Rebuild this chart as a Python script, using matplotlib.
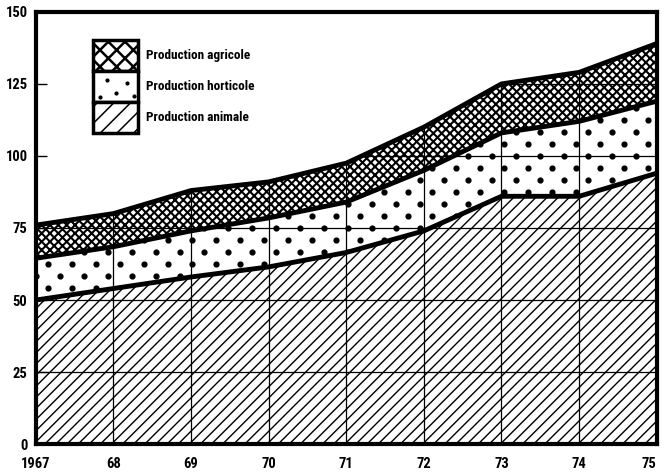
import numpy as np
import matplotlib
matplotlib.use("Agg")
import matplotlib.pyplot as plt
from matplotlib import font_manager
from matplotlib.patches import Rectangle

# =========================
# data (cumulative levels)
# =========================

years = [1967, 1968, 1969, 1970, 1971, 1972, 1973, 1974, 1975]
year_labels = ["1967", "68", "69", "70", "71", "72", "73", "74", "75"]

animale = [50, 54, 58, 61.5, 66.5, 74, 86, 86, 94]
horticole = [14.5, 14.5, 16, 17, 17.5, 21, 22, 26, 25]
agricole = [11.5, 11.5, 14, 12.5, 13.5, 15, 17, 17, 20]

y_ticks = [0, 25, 50, 75, 100, 125, 150]
legend_labels = ["Production agricole", "Production horticole", "Production animale"]

# =========================
# narrow bold font if one exists
# =========================

names = set(font_manager.get_font_names())
font = dict(family="DejaVu Sans", stretch="condensed", weight="bold")
for cand in ["Liberation Sans Narrow", "Roboto Condensed", "Open Sans Condensed"]:
    if cand in names:
        font = dict(family=cand, weight="bold")
        break

# =========================
# figure
# =========================

fig = plt.figure(figsize=(6.64, 4.74), dpi=100)
ax = fig.add_axes([0.054, 0.063, 0.935, 0.912])

x = np.array(years, dtype=float)
lvl1 = np.array(animale)
lvl2 = lvl1 + np.array(horticole)
lvl3 = lvl2 + np.array(agricole)

plt.rcParams["hatch.linewidth"] = 1.0
ax.fill_between(x, 0, lvl1, facecolor="white", edgecolor="black", hatch="///", linewidth=0)

# horticole: white with sparse dots
hort = ax.fill_between(x, lvl1, lvl2, facecolor="white", edgecolor="none", linewidth=0)

plt.rcParams["hatch.linewidth"] = 1.5
ax.fill_between(x, lvl2, lvl3, facecolor="white", edgecolor="black", hatch="xxxx", linewidth=0)

# dot pattern in pixel space, clipped to the horticole band
fig.canvas.draw()
bb = ax.get_window_extent()
dx, dy = 24, 12
pts = []
for r, yy in enumerate(np.arange(bb.y0, bb.y1, dy)):
    off = 0 if r % 2 == 0 else dx / 2
    for xx in np.arange(bb.x0 + off, bb.x1, dx):
        pts.append((xx, yy))
pts = np.array(pts)
dots = ax.scatter(pts[:, 0], pts[:, 1], s=12, color="black", transform=None, zorder=2)
dots.set_clip_path(hort.get_paths()[0], ax.transData)

# grid only inside the filled area
total = ax.fill_between(x, 0, lvl3, facecolor="none", edgecolor="none")
for t in y_ticks[1:-1]:
    ln = ax.axhline(t, color="black", lw=0.9, zorder=3)
    ln.set_clip_path(total.get_paths()[0], ax.transData)
for yr in years[1:-1]:
    ln = ax.axvline(yr, color="black", lw=0.9, zorder=3)
    ln.set_clip_path(total.get_paths()[0], ax.transData)

# boundary lines
for lv in (lvl1, lvl2, lvl3):
    ax.plot(x, lv, color="black", lw=3.5, solid_capstyle="butt", zorder=4)

ax.set_xlim(1967, 1975)
ax.set_ylim(0, 150)
ax.set_xticks(years)
ax.set_xticklabels(year_labels, **font, fontsize=10.5)
ax.get_xticklabels()[-1].set_horizontalalignment("right")
ax.set_yticks(y_ticks)
ax.set_yticklabels([str(t) for t in y_ticks], **font, fontsize=10.5)
ax.tick_params(axis="y", direction="in", length=8, width=1, pad=6)
ax.tick_params(axis="x", length=0, pad=9)
for s in ax.spines.values():
    s.set_linewidth(3)
    s.set_zorder(5)

# legend box
w, h = 45 / 664, 31 / 474
x0 = 93 / 664
ytop = 1 - 40 / 474
hatches = ["xx", "", "//"]
for i, (lab, hh) in enumerate(zip(legend_labels, hatches)):
    plt.rcParams["hatch.linewidth"] = 1.8 if hh == "xx" else 1.1
    y0 = ytop - (i + 1) * h
    rect = Rectangle((x0, y0), w, h, transform=fig.transFigure, facecolor="white",
                     edgecolor="black", hatch=hh, lw=2.5, zorder=6)
    fig.add_artist(rect)
    if hh == "":
        for (px, py) in [(0.3, 0.7), (0.75, 0.6), (0.5, 0.3), (0.15, 0.15), (0.9, 0.2)]:
            fig.add_artist(plt.Line2D([x0 + px * w], [y0 + py * h], marker="o", ms=2,
                                      color="black", transform=fig.transFigure, zorder=7))
    fig.text(x0 + w + 8 / 664, y0 + h / 2, lab, fontsize=9.5, va="center", ha="left", **font)

plt.rcParams["hatch.linewidth"] = 1.1
fig.savefig("out.png", dpi=100)
